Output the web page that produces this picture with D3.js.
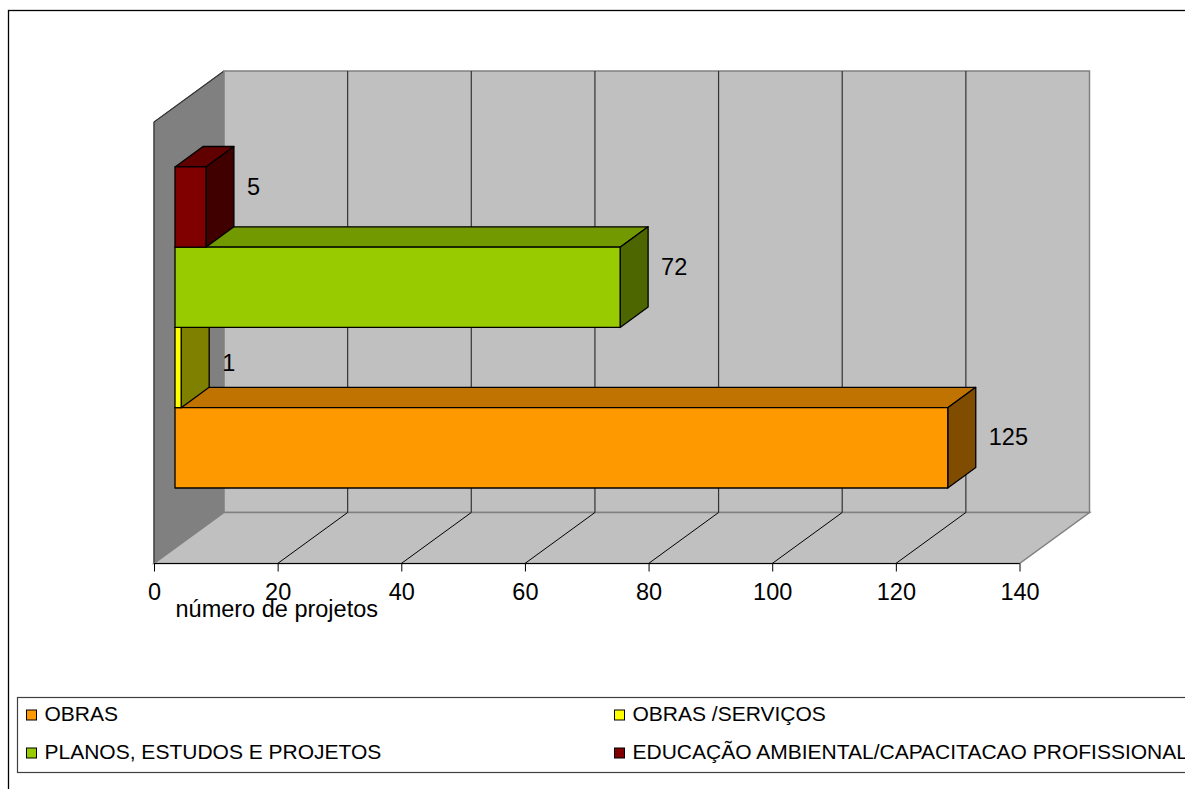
<!DOCTYPE html>
<html>
<head>
<meta charset="utf-8">
<script src="https://cdn.jsdelivr.net/npm/d3@7/dist/d3.min.js"></script>
<style>
  html, body { margin: 0; padding: 0; background: #fff; }
  svg { display: block; font-family: "Liberation Sans", Arial, sans-serif; }
</style>
</head>
<body>
<svg id="chart" width="1185" height="789"></svg>
<script>
// Número de projetos por tipo
const series = ["OBRAS", "OBRAS /SERVIÇOS", "PLANOS, ESTUDOS E PROJETOS", "EDUCAÇÃO AMBIENTAL/CAPACITACAO PROFISSIONAL"];
const values = [125, 1, 72, 5];
const axisTicks = [0, 20, 40, 60, 80, 100, 120, 140];
const axisTitle = "número de projetos";

// Colours of each series: front, top and side faces
const frontColors = ["#FF9900", "#FFFF00", "#99CC00", "#800000"];
const topColors   = ["#C07300", "#C0C000", "#739900", "#600000"];
const sideColors  = ["#804D00", "#808000", "#4D6600", "#400000"];

// Small vertical nudges for the value labels
const labelShift = [9, 15, 0, 0];

const svg = d3.select("#chart");

// Outer chart frame
svg.append("rect")
  .attr("x", 8.5).attr("y", 10.5)
  .attr("width", 1300).attr("height", 900)
  .attr("fill", "#fff").attr("stroke", "#000").attr("stroke-width", 1.3);

// 3D box geometry
const DX = 70, DY = -51;            // full depth offset
const yTop = 122, yBottom = 563.5;  // front plane vertical extent
const x = d3.scaleLinear().domain([0, 140]).range([154, 1019.5]);
const band = d3.scaleBand()
  .domain(series.slice().reverse())
  .range([yTop, yBottom])
  .paddingInner(0)
  .paddingOuter(0.75);
const d0 = 0.3, d1 = 0.7;           // bar depth span

const P = (v, y, d) => [x(v) + d * DX, y + d * DY];
const poly = pts => "M" + pts.map(p => p.join(",")).join("L") + "Z";

const walls = svg.append("g");
// side wall
walls.append("path")
  .attr("d", poly([P(0, yTop, 0), P(0, yTop, 1), P(0, yBottom, 1), P(0, yBottom, 0)]))
  .attr("fill", "#808080").attr("stroke", "#808080").attr("stroke-width", 1);
walls.append("path")
  .attr("d", poly([P(0, yBottom, 0), P(0, yTop, 0), P(0, yTop, 1)]).replace("Z", ""))
  .attr("fill", "none").attr("stroke", "#333").attr("stroke-width", 1.2);
// back wall
walls.append("path")
  .attr("d", poly([P(0, yTop, 1), P(140, yTop, 1), P(140, yBottom, 1), P(0, yBottom, 1)]))
  .attr("fill", "#C0C0C0").attr("stroke", "#808080").attr("stroke-width", 1.5);
// floor
walls.append("path")
  .attr("d", poly([P(0, yBottom, 0), P(140, yBottom, 0), P(140, yBottom, 1), P(0, yBottom, 1)]))
  .attr("fill", "#C0C0C0").attr("stroke", "#808080").attr("stroke-width", 1.5);

// gridlines on the back wall and the floor
const inner = axisTicks.filter(t => t > 0 && t < 140);
walls.selectAll(".gridBack").data(inner).join("line")
  .attr("x1", d => P(d, yTop, 1)[0]).attr("y1", d => P(d, yTop, 1)[1])
  .attr("x2", d => P(d, yBottom, 1)[0]).attr("y2", d => P(d, yBottom, 1)[1])
  .attr("stroke", "#333").attr("stroke-width", 1.2);
walls.selectAll(".gridFloor").data(inner).join("line")
  .attr("x1", d => P(d, yBottom, 0)[0]).attr("y1", d => P(d, yBottom, 0)[1])
  .attr("x2", d => P(d, yBottom, 1)[0]).attr("y2", d => P(d, yBottom, 1)[1])
  .attr("stroke", "#000").attr("stroke-width", 1);

// value axis
const axis = d3.axisBottom(x).tickValues(axisTicks).tickSize(8).tickPadding(5).tickFormat(d3.format("d"));
const gAxis = svg.append("g").attr("transform", `translate(0,${yBottom})`).call(axis);
gAxis.select(".domain").attr("stroke", "#000").attr("stroke-width", 1.2).attr("d", `M${x(0)},0H${x(140)}`);
gAxis.selectAll(".tick line").attr("stroke", "#000").attr("stroke-width", 1);
gAxis.selectAll(".tick text")
  .attr("font-size", 23.5).attr("font-family", "Liberation Sans, Arial, sans-serif")
  .attr("fill", "#000").attr("dy", null).attr("y", 36.5);

svg.append("text")
  .attr("x", 175.5).attr("y", 617)
  .attr("font-size", 23.5).attr("fill", "#000")
  .text(axisTitle);

// bars, drawn from the bottom one upward
const bars = svg.append("g");
series.forEach((s, i) => {
  const v = values[i];
  const y0 = band(s), y1 = y0 + band.bandwidth();
  const g = bars.append("g");
  const stroke = { stroke: "#000", "stroke-width": 1.3, "stroke-linejoin": "round" };
  const face = (pts, fill) => {
    const p = g.append("path").attr("d", poly(pts)).attr("fill", fill);
    Object.entries(stroke).forEach(([k, val]) => p.attr(k, val));
  };
  face([P(0, y0, d0), P(v, y0, d0), P(v, y0, d1), P(0, y0, d1)], topColors[i]);
  face([P(v, y0, d0), P(v, y0, d1), P(v, y1, d1), P(v, y1, d0)], sideColors[i]);
  face([P(0, y0, d0), P(v, y0, d0), P(v, y1, d0), P(0, y1, d0)], frontColors[i]);

  const backRight = P(v, (y0 + y1) / 2, d1);
  svg.append("text")
    .attr("x", backRight[0] + 13)
    .attr("y", backRight[1] + labelShift[i] + 8.4)
    .attr("font-size", 23.5).attr("fill", "#000")
    .text(v);
});

// legend
const legend = svg.append("g");
legend.append("rect")
  .attr("x", 17.5).attr("y", 697.5).attr("width", 1300).attr("height", 75)
  .attr("fill", "#fff").attr("stroke", "#404040").attr("stroke-width", 1.2);
const legendPos = [[26.5, 721], [614.5, 721], [26.5, 759], [614.5, 759]];
series.forEach((s, i) => {
  const [lx, ly] = legendPos[i];
  legend.append("rect")
    .attr("x", lx).attr("y", ly - 11).attr("width", 10).attr("height", 10)
    .attr("fill", frontColors[i]).attr("stroke", "#000").attr("stroke-width", 1);
  legend.append("text")
    .attr("x", lx + 18).attr("y", ly)
    .attr("font-size", 21).attr("fill", "#000")
    .text(s);
});
</script>
</body>
</html>
